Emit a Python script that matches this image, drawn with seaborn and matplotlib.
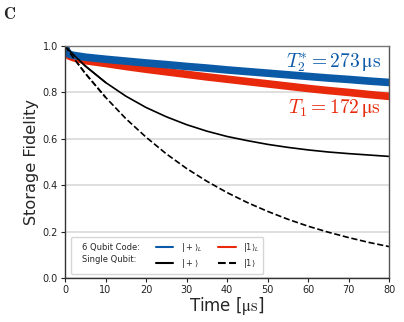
import numpy as np
import pandas as pd
import matplotlib.pyplot as plt
import seaborn as sns
from matplotlib.lines import Line2D

# data
t = [0, 0.5, 1, 2, 5, 10, 15, 20, 25, 30, 35, 40, 45, 50, 55, 60, 65, 70, 75, 80]
code_plus = [1.0, 0.975, 0.965, 0.960, 0.952, 0.943, 0.935, 0.927, 0.920, 0.912, 0.905,
             0.897, 0.890, 0.883, 0.876, 0.869, 0.862, 0.856, 0.849, 0.843]
code_one = [1.0, 0.970, 0.957, 0.950, 0.937, 0.925, 0.912, 0.900, 0.889, 0.878, 0.867,
            0.857, 0.847, 0.837, 0.827, 0.817, 0.808, 0.800, 0.791, 0.783]
single_plus = [1.0, 0.991, 0.982, 0.964, 0.914, 0.843, 0.784, 0.735, 0.695, 0.661, 0.633,
               0.610, 0.592, 0.576, 0.563, 0.552, 0.543, 0.536, 0.530, 0.524]
single_one = [1.0, 0.988, 0.975, 0.951, 0.882, 0.779, 0.687, 0.607, 0.535, 0.472, 0.417,
              0.368, 0.325, 0.287, 0.253, 0.223, 0.197, 0.174, 0.153, 0.135]

blue = '#0a5aa8'
red = '#e8290b'

df = pd.DataFrame({'t': t, 'code_plus': code_plus, 'code_one': code_one,
                   'single_plus': single_plus, 'single_one': single_one})

sns.set_style('white')
plt.rcParams['font.family'] = ['DejaVu Sans']

fig = plt.figure(figsize=(4.04, 3.22), dpi=100)
ax = fig.add_axes([0.161, 0.137, 0.802, 0.72])

ax.grid(axis='y', color='#d9d9d9', lw=1.2)
ax.set_axisbelow(True)

sns.lineplot(data=df, x='t', y='single_one', ax=ax, color='black', lw=1.2, linestyle='--')
sns.lineplot(data=df, x='t', y='single_plus', ax=ax, color='black', lw=1.2)
sns.lineplot(data=df, x='t', y='code_one', ax=ax, color=red, lw=5.5, solid_capstyle='round')
sns.lineplot(data=df, x='t', y='code_plus', ax=ax, color=blue, lw=5.5, solid_capstyle='round')
# black lines on top near the origin
sns.lineplot(data=df.iloc[:6], x='t', y='single_plus', ax=ax, color='black', lw=1.2)
sns.lineplot(data=df.iloc[:6], x='t', y='single_one', ax=ax, color='black', lw=1.2, linestyle='--')

ax.set_xlim(0, 80)
ax.set_ylim(0, 1.0)
ax.set_xticks(range(0, 81, 10))
ax.set_yticks([0.0, 0.2, 0.4, 0.6, 0.8, 1.0])
ax.set_yticklabels(['0.0', '0.2', '0.4', '0.6', '0.8', '1.0'])
ax.tick_params(axis='both', labelsize=7, length=3, width=0.8, direction='out', pad=2,
               bottom=True, left=True, colors='#222222')
for s in ax.spines.values():
    s.set_color('#333333')
    s.set_linewidth(1.0)
ax.spines['top'].set_color('#777777')
ax.spines['right'].set_color('#555555')

ax.set_xlabel(r'Time [$\mathrm{μs}$]', fontsize=12, math_fontfamily='cm', labelpad=0)
ax.set_ylabel('Storage Fidelity', fontsize=11.6, labelpad=3)

ax.text(78, 0.93, r'$T_2^{*} = 273\,\mathrm{μs}$', color=blue, fontsize=14,
        ha='right', va='center', math_fontfamily='cm')
ax.text(78, 0.733, r'$T_1 = 172\,\mathrm{μs}$', color=red, fontsize=14,
        ha='right', va='center', math_fontfamily='cm')

fig.text(0.008, 0.985, r'$\mathbf{C}$', fontsize=12, math_fontfamily='cm',
         ha='left', va='top')

# legend
empty = Line2D([], [], color='none')
handles = [empty, empty,
           Line2D([], [], color=blue, lw=1.5), Line2D([], [], color='black', lw=1.5),
           Line2D([], [], color=red, lw=1.5), Line2D([], [], color='black', lw=1.5, ls='--')]
labels = ['6 Qubit Code:', 'Single Qubit:',
          r'$|+\rangle_L$', r'$|+\rangle$', r'$|1\rangle_L$', r'$|1\rangle$']
leg = ax.legend(handles, labels, ncol=3, loc='lower left', fontsize=6,
                handlelength=2.1, handletextpad=0.9, columnspacing=1.9,
                borderpad=0.45, labelspacing=0.35, frameon=True, fancybox=True,
                bbox_to_anchor=(0.005, 0.0))
leg.get_frame().set_edgecolor('#cccccc')
# first column holds only text, no handle box
col0 = leg._legend_handle_box.get_children()[0]
for hp in col0.get_children():
    hp.get_children()[0].width = 0

fig.savefig('out.png', dpi=100)
